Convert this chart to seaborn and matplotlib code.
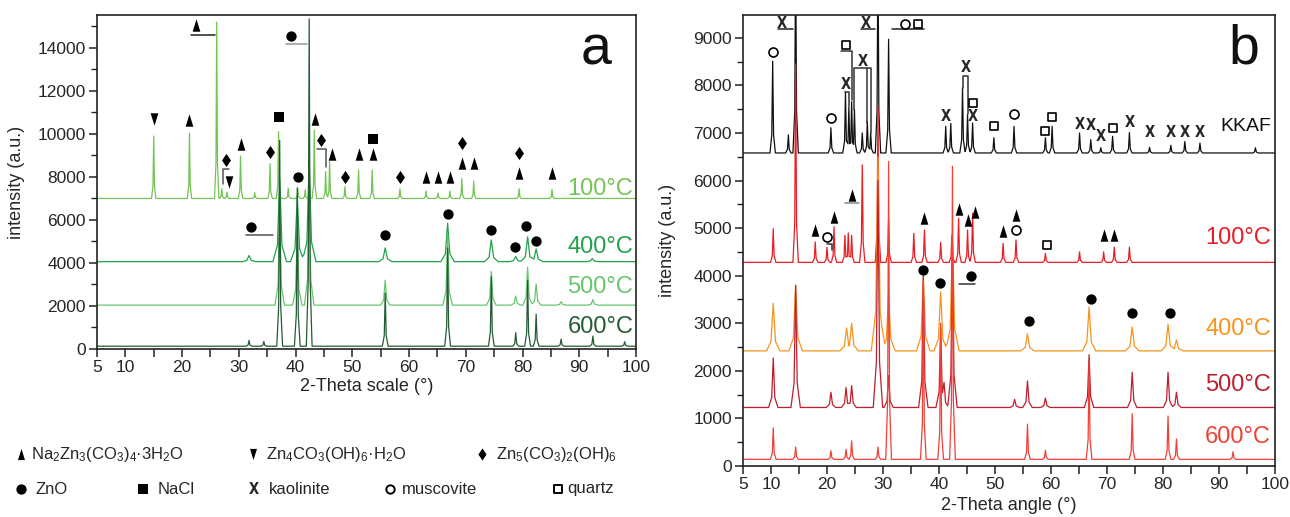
import numpy as np
import pandas as pd
import matplotlib
matplotlib.use("Agg")
import matplotlib.pyplot as plt
import seaborn as sns

sns.set_style("white")
plt.rcParams['font.family'] = ['Liberation Sans', 'DejaVu Sans']
plt.rcParams['mathtext.fontset'] = 'custom'
plt.rcParams['mathtext.rm'] = 'Liberation Sans'
plt.rcParams['mathtext.it'] = 'Liberation Sans:italic'

# ---------------- data: panel a (peak positions in 2-theta, peak tops in a.u.)
a_labels = ["100°C", "400°C", "500°C", "600°C"]
a_base = [7000, 4060, 2040, 130]
a100_pos = [15.0, 21.3, 26.1, 27.0, 27.9, 30.3, 32.8, 35.5, 37.0, 38.7, 40.4, 41.7,
            43.3, 45.3, 46.0, 48.7, 51.1, 53.5, 58.4, 63.0, 65.1, 67.2, 69.3, 71.4, 79.4, 85.2]
a100_top = [9900, 10030, 15200, 7450, 7300, 8970, 7270, 8620, 10100, 7480, 7450, 7400,
            10180, 8250, 8700, 7550, 8320, 8320, 7450, 7350, 7250, 7350, 7920, 7810, 7450, 7420]
a400_pos = [31.8, 37.2, 40.3, 42.4, 55.8, 66.8, 74.5, 78.8, 80.9, 82.4, 92.3]
a400_top = [4350, 7900, 7100, 8700, 4700, 5850, 5070, 4300, 5220, 4650, 4200]
a500_pos = [37.2, 40.3, 42.4, 55.8, 66.8, 74.5, 78.8, 80.9, 82.4, 86.8, 92.4]
a500_top = [6700, 5700, 8000, 3200, 5300, 3600, 2460, 3800, 3020, 2200, 2300]
a600_pos = [31.8, 34.4, 37.2, 40.3, 42.4, 55.8, 66.8, 74.5, 78.8, 80.9, 82.4, 86.8, 92.4, 98.0]
a600_top = [400, 350, 9700, 7500, 15350, 2600, 4700, 3360, 760, 3200, 1620, 460, 600, 340]

# ---------------- data: panel b
b_labels = ["KKAF", "100°C", "400°C", "500°C", "600°C"]
b_base = [6580, 4280, 2420, 1230, 140]
bk_pos = [10.3, 13.1, 14.4, 20.7, 23.3, 23.9, 24.4, 24.9, 26.3, 27.2, 27.8, 29.1, 31.0,
          41.2, 42.1, 44.2, 45.1, 46.0, 49.8, 53.4, 59.0, 60.2, 65.1, 67.1, 68.9, 71.0,
          74.0, 77.6, 81.4, 83.9, 86.6, 96.5]
bk_top = [8510, 6960, 11000, 7110, 7860, 7550, 7660, 7490, 7000, 7240, 7000, 11000, 8970,
          7140, 7200, 7950, 7390, 7210, 6900, 7140, 6900, 7140, 7000, 6860, 6690, 6930,
          7010, 6700, 6740, 6820, 6790, 6690]
b100_pos = [10.4, 14.4, 17.9, 20.0, 21.25, 23.2, 23.8, 24.4, 26.3, 29.1, 31.0, 35.5, 37.4,
            40.3, 42.3, 43.5, 45.1, 46.0, 51.45, 53.75, 59.0, 65.1, 69.4, 71.3, 74.0]
b100_top = [4990, 8450, 4710, 4600, 5030, 4850, 4900, 4850, 6330, 7550, 5200, 4890, 4960,
            4700, 4850, 5210, 4960, 5310, 4680, 4750, 4470, 4500, 4500, 4600, 4600]
b400_pos = [10.4, 14.4, 23.5, 24.4, 29.1, 31.0, 37.2, 40.3, 42.4, 55.8, 66.8, 74.5, 80.9, 82.4]
b400_top = [3420, 3800, 2900, 3000, 6500, 3600, 3970, 3660, 4750, 2780, 3340, 2920, 2975, 2650]
b500_pos = [10.4, 14.4, 20.7, 23.4, 24.4, 29.1, 31.0, 37.2, 40.3, 40.9, 42.4, 53.5, 55.8,
            59.0, 66.8, 74.5, 80.9, 82.4]
b500_top = [2270, 3800, 1550, 1650, 1690, 6000, 1900, 4000, 2900, 1760, 4700, 1400, 1790,
            1430, 2340, 1970, 1970, 1550]
b600_pos = [10.4, 14.4, 20.7, 23.4, 24.4, 29.1, 31.0, 37.2, 40.3, 42.4, 55.8, 59.0, 66.8,
            74.5, 80.9, 82.4, 92.5]
b600_top = [800, 400, 320, 350, 530, 400, 6400, 3900, 3000, 6300, 880, 330, 2200, 1100,
            1050, 570, 300]

# ---------------- phase markers (2-theta, intensity)
a_tri_up = [(22.4, 15070), (21.3, 10650), (30.3, 9530), (43.4, 10700), (46.4, 9070),
            (51.1, 9070), (53.6, 9070), (63.0, 8000), (65.1, 8000), (67.2, 8000),
            (69.3, 8650), (71.4, 8650), (79.4, 8190), (85.2, 8190)]
a_tri_down = [(15.0, 10700), (28.2, 7770)]
a_diamond = [(27.7, 8790), (35.5, 9160), (44.5, 9720), (48.7, 8000), (58.4, 8000),
             (69.3, 9580), (79.4, 9110)]
a_dot = [(39.2, 14550), (40.4, 8000), (32.2, 5670), (55.7, 5300), (66.8, 6260),
         (74.4, 5530), (78.6, 4760), (80.7, 5740), (82.3, 5040)]
a_square = [(37.1, 10780), (53.6, 9760)]
a_bars = [([21.5, 25.8], [14600, 14600], '#222222'),
          ([38.3, 42.0], [14200, 14200], '#999999'),
          ([31.2, 36.0], [5300, 5300], '#555555'),
          ([27.15, 27.15, 28.2], [7690, 8390, 8390], '#555555'),
          ([43.85, 45.3, 45.3], [9320, 9320, 8470], '#555555')]

b_tri_up = [(17.9, 4960), (21.25, 5240), (24.4, 5700), (37.4, 5210), (43.5, 5400),
            (45.1, 5170), (46.5, 5340), (51.45, 4940), (53.75, 5280), (69.4, 4850), (71.3, 4850)]
b_dot = [(37.2, 4130), (40.2, 3850), (45.8, 4000), (56.0, 3050), (67.1, 3500),
         (74.5, 3220), (81.2, 3220)]
b_ring = [(10.3, 8700), (20.7, 7320), (33.9, 9300), (53.4, 7390), (20.0, 4820), (53.75, 4970)]
b_box = [(23.4, 8850), (36.3, 9300), (46.0, 7620), (49.8, 7140), (59.0, 7050), (60.2, 7340),
         (71.0, 7110), (59.2, 4640)]
b_kaol = [(12.0, 9300), (27.0, 9300), (23.4, 8020), (26.4, 8510), (41.2, 7350), (44.8, 8370),
          (46.0, 7350), (65.1, 7170), (67.1, 7150), (68.9, 6930), (74.0, 7210), (77.6, 7010),
          (81.4, 7010), (83.9, 7010), (86.6, 7010)]
b_bars = [([11.2, 13.9], [9180, 9180], '#222222'),
          ([26.0, 28.5], [9180, 9180], '#222222'),
          ([31.6, 37.3], [9180, 9180], '#222222'),
          ([23.3, 25.8], [5520, 5520], '#888888'),
          ([43.5, 46.4], [3830, 3830], '#333333'),
          ([22.55, 24.4, 24.4], [8720, 8720, 7700], '#333333'),
          ([23.3, 23.9, 23.9], [7860, 7860, 7560], '#333333'),
          ([24.9, 24.9, 27.8, 27.8], [7490, 8370, 8370, 7000], '#333333'),
          ([27.2, 27.2], [8370, 7210], '#333333'),
          ([44.2, 44.2, 45.1, 45.1], [7950, 8190, 8190, 7390], '#333333'),
          ([20.0, 20.9, 20.9], [4660, 4660, 4540], '#333333')]

x_ticklabels = ['5', '10', '', '20', '', '30', '', '40', '', '50', '', '60', '', '70', '',
                '80', '', '90', '', '100']

a_colors = ['#74c455', '#23a04c', '#66c66e', '#245c34']
b_colors = ['#111111', '#ec1c24', '#f7941d', '#be1e2d', '#ef4136']

TRI_UP = [(-0.62, -1), (0.62, -1), (0, 1)]
TRI_DOWN = [(-0.62, 1), (0.62, 1), (0, -1)]
DIAMOND = [(0, 1), (0.68, 0), (0, -1), (-0.68, 0)]
KAOL = dict(fontsize=10.5, fontweight='bold', fontstretch='condensed',
            family=['DejaVu Sans'], ha='center', va='center')


def profile(pos, top, base, w):
    # piecewise peak shape built from read peak tops on a flat baseline
    xs = [5.0, 100.0]
    for p in pos:
        xs += [p - 3 * w, p - w, p, p + w, p + 3 * w]
    xs = np.unique(np.clip(xs, 5, 100))
    ys = np.full(len(xs), float(base))
    for p, h in zip(pos, top):
        shape = np.interp(xs, [p - 3 * w, p - w, p, p + w, p + 3 * w],
                          [base, base + 0.2 * (h - base), h, base + 0.2 * (h - base), base],
                          left=base, right=base)
        ys = np.maximum(ys, shape)
    return xs, ys


def build(labels, series, bases, widths):
    frames = []
    for lab, (pos, top), base, w in zip(labels, series, bases, widths):
        xs, ys = profile(pos, top, base, w)
        frames.append(pd.DataFrame({'x': xs, 'y': ys, 'pattern': lab}))
    return pd.concat(frames, ignore_index=True)


def style_axes(ax, ymax, ymajor, yminor, xlabel):
    ax.set_xlim(5, 100)
    ax.set_ylim(0, ymax)
    ax.set_xticks(np.arange(5, 101, 5))
    ax.set_xticklabels(x_ticklabels)
    ax.set_yticks(np.arange(0, ymax, ymajor))
    ax.set_yticks(np.arange(yminor, ymax, ymajor), minor=True)
    ax.tick_params(axis='both', which='major', direction='out', length=6, width=1.1,
                   labelsize=12.5, color='#222222', pad=2)
    ax.tick_params(axis='y', which='minor', direction='out', length=4.5, width=1.0, color='#222222')
    ax.tick_params(left=True, bottom=True, which='both')
    for s in ax.spines.values():
        s.set_color('#222222')
        s.set_linewidth(1.2)
    ax.set_xlabel(xlabel, fontsize=13)
    ax.set_ylabel('intensity (a.u.)', fontsize=13)


def phase_marks(ax, pts, marker, s, filled=True, lw=1.2):
    xs, ys = zip(*pts)
    if filled:
        ax.scatter(xs, ys, marker=marker, s=s, color='black', linewidths=0, zorder=5)
    else:
        ax.scatter(xs, ys, marker=marker, s=s, facecolors='white', edgecolors='black',
                   linewidths=lw, zorder=5)


fig = plt.figure(figsize=(12.9, 5.17), dpi=100)
ax_a = fig.add_axes([97 / 1290, 1 - 349 / 517, 539 / 1290, 334 / 517])
ax_b = fig.add_axes([743 / 1290, 1 - 466 / 517, 532 / 1290, 451 / 517])

# ---------------- panel a
df_a = build(a_labels,
             [(a100_pos, a100_top), (a400_pos, a400_top), (a500_pos, a500_top), (a600_pos, a600_top)],
             a_base, [0.13, 0.4, 0.28, 0.17])
sns.lineplot(data=df_a, x='x', y='y', hue='pattern', hue_order=a_labels,
             palette=dict(zip(a_labels, a_colors)), estimator=None, sort=False,
             legend=False, linewidth=0.9, ax=ax_a)
style_axes(ax_a, 15530, 2000, 1000, '2-Theta scale (°)')
ax_a.xaxis.set_label_coords(0.5, -0.088)
ax_a.yaxis.set_label_coords(-0.134, 0.5)

for x0, y0, c in a_bars:
    ax_a.plot(x0, y0, color=c, lw=1.1, zorder=4)
phase_marks(ax_a, a_tri_up, TRI_UP, 80)
phase_marks(ax_a, a_tri_down, TRI_DOWN, 80)
phase_marks(ax_a, a_diamond, DIAMOND, 90)
phase_marks(ax_a, a_dot, 'o', 55)
phase_marks(ax_a, a_square, 's', 45)

a_label_y = [7450, 4740, 2880, 1020]
for lab, c, yy in zip(a_labels, a_colors, a_label_y):
    ax_a.text(99.5, yy, lab, color=c, fontsize=17, ha='right', va='center')
ax_a.text(93.0, 13900, 'a', fontsize=40, ha='center', va='center', color='#111111')

# ---------------- panel b
df_b = build(b_labels,
             [(bk_pos, bk_top), (b100_pos, b100_top), (b400_pos, b400_top),
              (b500_pos, b500_top), (b600_pos, b600_top)],
             b_base, [0.16, 0.16, 0.4, 0.28, 0.17])
sns.lineplot(data=df_b, x='x', y='y', hue='pattern', hue_order=b_labels,
             palette=dict(zip(b_labels, b_colors)), estimator=None, sort=False,
             legend=False, linewidth=0.9, ax=ax_b)
style_axes(ax_b, 9480, 1000, 500, '2-Theta angle (°)')
ax_b.xaxis.set_label_coords(0.5, -0.068)
ax_b.yaxis.set_label_coords(-0.126, 0.5)

for x0, y0, c in b_bars:
    ax_b.plot(x0, y0, color=c, lw=1.1, zorder=4)
phase_marks(ax_b, b_tri_up, TRI_UP, 80)
phase_marks(ax_b, b_dot, 'o', 55)
phase_marks(ax_b, b_ring, 'o', 42, filled=False)
phase_marks(ax_b, b_box, 's', 36, filled=False)
for xk, yk in b_kaol:
    ax_b.text(xk, yk, 'X', zorder=5, **KAOL)

b_label_y = [7140, 4790, 2890, 1710, 600]
for lab, c, yy in zip(b_labels, b_colors, b_label_y):
    ax_b.text(99.3, yy, lab, color=c, fontsize=17 if lab != 'KKAF' else 14,
              ha='right', va='center')
ax_b.text(94.5, 8750, 'b', fontsize=40, ha='center', va='center', color='#111111')

# ---------------- legend of phases (pixel coordinates of the figure)
ax_l = fig.add_axes([0, 0, 650 / 1290, 117 / 517])
ax_l.set_xlim(0, 650)
ax_l.set_ylim(517, 400)
ax_l.axis('off')
leg_fs = 12
row1, row2 = 454, 489
ax_l.scatter([20.5], [row1], marker=TRI_UP, s=65, color='black', linewidths=0)
ax_l.text(31, row1, r'Na$_2$Zn$_3$(CO$_3$)$_4$·3H$_2$O', fontsize=leg_fs, va='center')
ax_l.scatter([253], [row1], marker=TRI_DOWN, s=65, color='black', linewidths=0)
ax_l.text(266, row1, r'Zn$_4$CO$_3$(OH)$_6$·H$_2$O', fontsize=leg_fs, va='center')
ax_l.scatter([481.5], [row1], marker=DIAMOND, s=75, color='black', linewidths=0)
ax_l.text(496, row1, r'Zn$_5$(CO$_3$)$_2$(OH)$_6$', fontsize=leg_fs, va='center')
ax_l.scatter([20.5], [row2], marker='o', s=55, color='black', linewidths=0)
ax_l.text(35, row2, 'ZnO', fontsize=leg_fs, va='center')
ax_l.scatter([143], [row2], marker='s', s=48, color='black', linewidths=0)
ax_l.text(158, row2, 'NaCl', fontsize=leg_fs, va='center')
ax_l.text(254, row2, 'X', **KAOL)
ax_l.text(269, row2, 'kaolinite', fontsize=leg_fs, va='center')
ax_l.scatter([390], [row2], marker='o', s=36, facecolors='white', edgecolors='black', linewidths=1.4)
ax_l.text(402, row2, 'muscovite', fontsize=leg_fs, va='center')
ax_l.scatter([558], [row2], marker='s', s=36, facecolors='white', edgecolors='black', linewidths=1.4)
ax_l.text(567, row2, 'quartz', fontsize=leg_fs, va='center')

fig.savefig('out.png', dpi=100)
